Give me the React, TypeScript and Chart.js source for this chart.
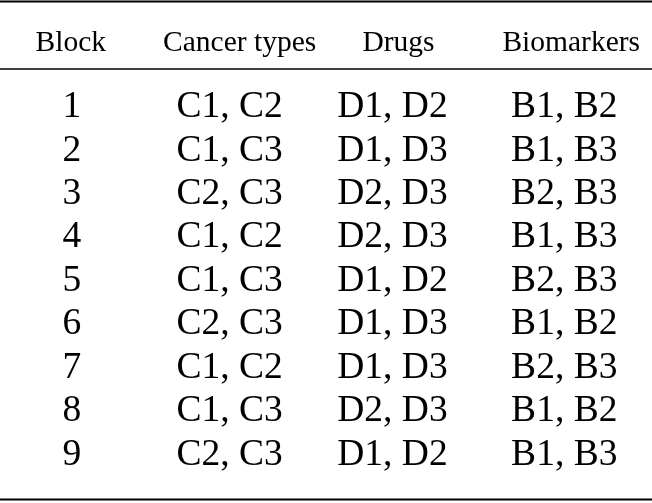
import { useEffect, useRef } from "react";
import { Chart, registerables } from "chart.js";

Chart.register(...registerables);

const headers = ["Block", "Cancer types", "Drugs", "Biomarkers"];
const blocks = ["1", "2", "3", "4", "5", "6", "7", "8", "9"];
const cancerTypes = ["C1, C2", "C1, C3", "C2, C3", "C1, C2", "C1, C3", "C2, C3", "C1, C2", "C1, C3", "C2, C3"];
const drugs = ["D1, D2", "D1, D3", "D2, D3", "D2, D3", "D1, D2", "D1, D3", "D1, D3", "D2, D3", "D1, D2"];
const biomarkers = ["B1, B2", "B1, B3", "B2, B3", "B1, B3", "B2, B3", "B1, B2", "B2, B3", "B1, B2", "B1, B3"];
const columns = [blocks, cancerTypes, drugs, biomarkers];

const FONT = '"Liberation Serif", "Times New Roman", Times, serif';

const tablePlugin = {
  id: "tableText",
  afterDatasetsDraw(chart: any, _args: any, opts: any) {
    const ctx = chart.ctx as CanvasRenderingContext2D;
    const { left, right } = chart.chartArea;
    ctx.save();
    ctx.fillStyle = "#000";
    ctx.textAlign = "center";
    ctx.textBaseline = "alphabetic";
    ctx.font = `${opts.cellSize}px ${FONT}`;
    chart.data.datasets.forEach((ds: any, di: number) => {
      const meta = chart.getDatasetMeta(di);
      meta.data.forEach((el: any, i: number) => {
        ctx.fillText(ds.texts[i], el.x + opts.cellDx[di], el.y);
      });
    });
    ctx.font = `${opts.headSize}px ${FONT}`;
    const xs = chart.scales.x;
    headers.forEach((h, i) => {
      ctx.fillText(h, xs.getPixelForValue(i) + opts.headDx[i], opts.headBaseline);
    });
    ctx.strokeStyle = "#000";
    opts.rules.forEach((r: any) => {
      ctx.lineWidth = r.w;
      ctx.beginPath();
      ctx.moveTo(left, r.y);
      ctx.lineTo(right, r.y);
      ctx.stroke();
    });
    ctx.restore();
  },
};

export default function App() {
  const ref = useRef<HTMLCanvasElement>(null);
  useEffect(() => {
    document.body.style.margin = "0";
    const canvas = ref.current;
    if (!canvas) return;
    const chart = new Chart(canvas, {
      type: "scatter",
      data: {
        datasets: columns.map((col, ci) => ({
          label: headers[ci],
          texts: col,
          data: col.map((_, ri) => ({ x: ci, y: ri + 1 })),
          pointRadius: 0,
          pointHoverRadius: 0,
        })) as any,
      },
      options: {
        animation: false,
        responsive: false,
        events: [],
        layout: { padding: 0 },
        scales: {
          x: { type: "linear", min: -0.42, max: 3.56, display: false },
          y: { type: "linear", min: -1.69, max: 9.874, reverse: true, display: false },
        },
        plugins: {
          legend: { display: false },
          tooltip: { enabled: false },
          tableText: {
            cellSize: 37.5,
            headSize: 29.5,
            cellDx: [3, -3, -4, 4],
            headDx: [2, 7, 2, 11],
            headBaseline: 51,
            rules: [
              { y: 1.5, w: 2 },
              { y: 69, w: 1.5 },
              { y: 499.5, w: 2 },
            ],
          },
        } as any,
      },
      plugins: [tablePlugin],
    });
    return () => chart.destroy();
  }, []);
  return (
    <div style={{ width: 652, height: 503, position: "relative", background: "#fff" }}>
      <canvas ref={ref} width={652} height={503} style={{ display: "block" }} />
    </div>
  );
}
